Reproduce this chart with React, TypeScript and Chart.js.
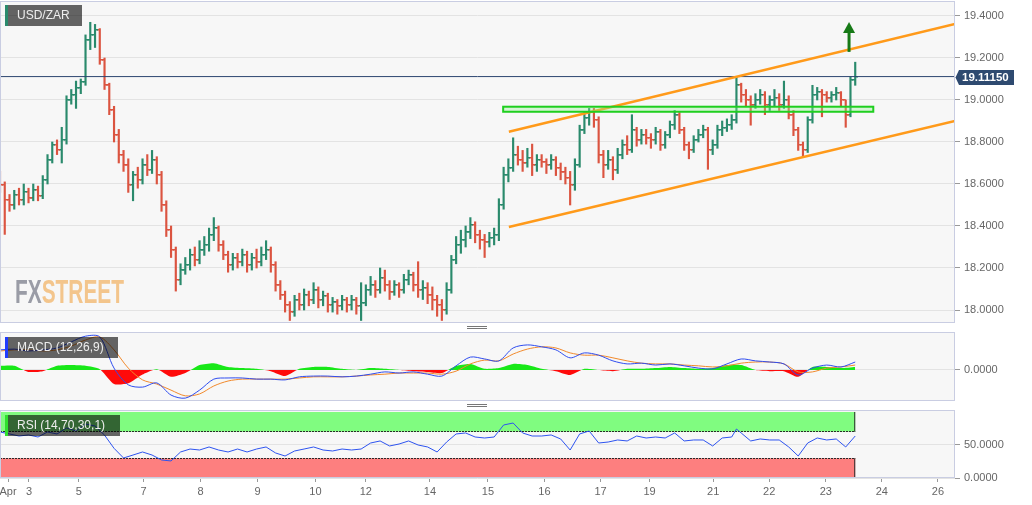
import React, { useEffect, useRef } from 'react';
import { Chart, registerables } from 'chart.js';
Chart.register(...registerables);

const FONT = '"Liberation Sans", Arial, Helvetica, sans-serif';

// ---------- price data (2-hour OHLC bars, open = previous close) ----------
const firstOpen = 18.62;
const closes = [
  18.595, 18.524, 18.5, 18.548, 18.524, 18.562, 18.533, 18.571, 18.543, 18.619,
  18.714, 18.786, 18.762, 18.81, 19.0, 19.024, 19.057, 19.086, 19.286, 19.31,
  19.333, 19.19, 19.071, 18.952, 18.833, 18.738, 18.69, 18.595, 18.643, 18.619,
  18.69, 18.667, 18.714, 18.643, 18.5, 18.381, 18.286, 18.143, 18.19, 18.214,
  18.262, 18.238, 18.286, 18.31, 18.357, 18.39, 18.31, 18.262, 18.214, 18.248,
  18.229, 18.262, 18.214, 18.248, 18.229, 18.262, 18.286, 18.214, 18.119, 18.071,
  18.024, 17.99, 18.048, 18.024, 18.071, 18.048, 18.095, 18.048, 18.067, 18.024,
  18.038, 18.019, 18.048, 18.024, 18.048, 18.019, 18.033, 18.095, 18.119, 18.095,
  18.152, 18.119, 18.086, 18.119, 18.095, 18.143, 18.167, 18.119, 18.095, 18.105,
  18.071, 18.048, 18.024, 18.0, 18.095, 18.238, 18.31, 18.333, 18.371, 18.405,
  18.357, 18.333, 18.324, 18.343, 18.357, 18.5, 18.643, 18.676, 18.738, 18.714,
  18.7, 18.724, 18.69, 18.714, 18.705, 18.69, 18.714, 18.676, 18.657, 18.629,
  18.595, 18.69, 18.857, 18.914, 18.943, 18.905, 18.738, 18.69, 18.714, 18.667,
  18.738, 18.786, 18.762, 18.857, 18.81, 18.833, 18.819, 18.81, 18.848, 18.786,
  18.833, 18.881, 18.929, 18.857, 18.786, 18.762, 18.81, 18.833, 18.857, 18.762,
  18.786, 18.857, 18.867, 18.881, 18.905, 19.071, 19.024, 19.0, 18.976, 19.0,
  19.024, 18.976, 19.0, 19.01, 18.976, 19.0, 18.929, 18.857, 18.786, 18.762,
  18.905, 19.024, 19.038, 19.024, 19.01, 19.024, 19.033, 19.0, 18.929, 19.095,
  19.1115,
];
const highs = [
  18.66, 18.61, 18.55, 18.57, 18.58, 18.6, 18.58, 18.6, 18.59, 18.64,
  18.74, 18.8, 18.81, 18.87, 19.02, 19.05, 19.09, 19.1, 19.31, 19.37,
  19.36, 19.34, 19.2, 19.08, 18.97, 18.86, 18.76, 18.72, 18.66, 18.68,
  18.72, 18.74, 18.76, 18.73, 18.66, 18.52, 18.4, 18.3, 18.22, 18.25,
  18.29, 18.3, 18.33, 18.35, 18.39, 18.44, 18.4, 18.33, 18.28, 18.27,
  18.27, 18.29, 18.28, 18.27, 18.29, 18.3, 18.33, 18.3, 18.23, 18.14,
  18.09, 18.04, 18.07, 18.08, 18.1, 18.09, 18.13, 18.11, 18.09, 18.08,
  18.06, 18.05, 18.07, 18.06, 18.07, 18.06, 18.13, 18.12, 18.16, 18.14,
  18.2, 18.19, 18.14, 18.14, 18.13, 18.17, 18.19, 18.18, 18.23, 18.14,
  18.13, 18.11, 18.07, 18.05, 18.13, 18.26, 18.35, 18.38, 18.4, 18.44,
  18.42, 18.38, 18.36, 18.37, 18.39, 18.53, 18.68, 18.72, 18.82, 18.78,
  18.76, 18.77, 18.79, 18.74, 18.74, 18.72, 18.74, 18.73, 18.7, 18.68,
  18.66, 18.72, 18.88, 18.94, 18.96, 18.96, 18.92, 18.76, 18.76, 18.73,
  18.77, 18.81, 18.83, 18.93, 18.87, 18.86, 18.86, 18.84, 18.87, 18.86,
  18.85, 18.9, 18.95, 18.94, 18.87, 18.8, 18.83, 18.86, 18.88, 18.87,
  18.81, 18.88, 18.9, 18.91, 18.93, 19.11, 19.08, 19.05, 19.02, 19.03,
  19.05, 19.04, 19.02, 19.05, 19.03, 19.09, 19.02, 18.95, 18.87, 18.8,
  18.92, 19.07, 19.06, 19.05, 19.04, 19.04, 19.06, 19.04, 19.0, 19.11,
  19.18,
];
const lows = [
  18.56, 18.36, 18.47, 18.48, 18.5, 18.5, 18.51, 18.52, 18.52, 18.53,
  18.6, 18.7, 18.74, 18.7, 18.79, 18.98, 18.96, 19.03, 19.07, 19.24,
  19.25, 19.17, 19.05, 18.93, 18.8, 18.7, 18.66, 18.56, 18.52, 18.58,
  18.6, 18.64, 18.65, 18.6, 18.47, 18.35, 18.25, 18.09, 18.12, 18.17,
  18.19, 18.21, 18.22, 18.26, 18.28, 18.33, 18.28, 18.24, 18.18, 18.19,
  18.2, 18.21, 18.18, 18.19, 18.2, 18.21, 18.24, 18.18, 18.09, 18.05,
  17.99, 17.95, 17.97, 18.0, 18.0, 18.02, 18.03, 18.01, 18.02, 17.99,
  17.99, 17.98, 18.0, 17.99, 18.0, 17.98, 17.95, 18.02, 18.07, 18.06,
  18.08, 18.09, 18.05, 18.07, 18.06, 18.08, 18.12, 18.09, 18.06, 18.05,
  18.03, 18.0, 17.97, 17.95, 17.98, 18.08, 18.22, 18.27, 18.3, 18.34,
  18.32, 18.29, 18.25, 18.3, 18.31, 18.33, 18.48, 18.61, 18.66, 18.69,
  18.66, 18.68, 18.64, 18.66, 18.68, 18.65, 18.67, 18.64, 18.62, 18.6,
  18.5, 18.57, 18.68, 18.84, 18.88, 18.87, 18.7, 18.63, 18.67, 18.62,
  18.65, 18.72, 18.74, 18.75, 18.78, 18.79, 18.79, 18.77, 18.79, 18.76,
  18.77, 18.82, 18.86, 18.84, 18.76, 18.72, 18.75, 18.8, 18.82, 18.67,
  18.74, 18.77, 18.83, 18.85, 18.86, 18.89, 18.99, 18.97, 18.88, 18.96,
  18.98, 18.93, 18.95, 18.97, 18.95, 18.96, 18.91, 18.83, 18.76, 18.73,
  18.75, 18.89, 19.0, 18.92, 18.99, 18.99, 19.0, 18.97, 18.87, 18.92,
  19.07,
];

// ---------- axis ----------
const X_MAX = 201;
const dayTickPos = [1.7, 6.1, 16.6, 30.2, 42.2, 54.2, 66.4, 77.0, 90.5, 102.7, 114.6, 126.4, 136.7, 150.1, 161.9, 173.8, 185.6, 197.4];
const dayTickText = ['Apr', '3', '5', '7', '8', '9', '10', '12', '14', '15', '16', '17', '19', '21', '22', '23', '24', '26'];
const priceTicks = [18.0, 18.2, 18.4, 18.6, 18.8, 19.0, 19.2, 19.4];
const PRICE_MIN = 17.9381;
const PRICE_MAX = 19.4714;
const lastPrice = 19.1115;

// ---------- drawings ----------
const channelUpper = [{ x: 107.1, y: 18.849 }, { x: 201, y: 19.362 }];
const channelLower = [{ x: 107.1, y: 18.395 }, { x: 201, y: 18.9 }];
const zoneX = [105.9, 183.8];
const zoneY = [18.944, 18.968];
const arrowX = 178.7;
const arrowBase = 19.229;
const arrowTip = 19.371;

// ---------- MACD (12,26,9) ----------
const macdIdx = [0, 3, 6, 9, 12, 15, 18, 21, 24, 27, 30, 33, 36, 39, 42, 45, 48, 51, 54, 57, 60, 63, 66, 69, 72, 75, 78, 81, 84, 87, 90, 93, 96, 99, 102, 105, 108, 111, 114, 117, 120, 123, 126, 129, 132, 135, 138, 141, 144, 147, 150, 153, 156, 159, 162, 165, 168, 171, 174, 177, 180];
const macdLine = [0.053, 0.055, 0.05, 0.053, 0.058, 0.074, 0.089, 0.087, 0.005, -0.039, -0.045, -0.034, -0.066, -0.074, -0.053, -0.024, -0.021, -0.021, -0.024, -0.024, -0.026, -0.018, -0.016, -0.016, -0.018, -0.016, -0.011, -0.005, -0.008, -0.005, -0.011, -0.016, 0.011, 0.034, 0.029, 0.024, 0.058, 0.066, 0.061, 0.053, 0.032, 0.045, 0.039, 0.024, 0.016, 0.018, 0.013, 0.016, 0.011, 0.005, 0.003, 0.016, 0.029, 0.024, 0.021, 0.016, -0.013, 0.005, 0.013, 0.008, 0.021];
const signalLine = [0.05, 0.053, 0.053, 0.05, 0.053, 0.063, 0.079, 0.087, 0.053, 0.005, -0.026, -0.037, -0.053, -0.068, -0.063, -0.042, -0.029, -0.024, -0.024, -0.024, -0.024, -0.021, -0.018, -0.018, -0.018, -0.016, -0.013, -0.011, -0.008, -0.008, -0.008, -0.011, -0.003, 0.016, 0.026, 0.024, 0.042, 0.055, 0.061, 0.058, 0.045, 0.039, 0.039, 0.032, 0.024, 0.018, 0.016, 0.016, 0.013, 0.011, 0.008, 0.011, 0.018, 0.021, 0.021, 0.016, -0.005, -0.005, 0.005, 0.008, 0.013];
const histogram = [0.011, 0.011, -0.005, -0.003, 0.011, 0.013, 0.011, 0.002, -0.037, -0.035, -0.012, 0.002, -0.018, -0.008, 0.013, 0.018, 0.008, 0.005, 0.003, -0.003, -0.016, 0.003, 0.008, 0.008, 0.003, 0.0, 0.005, 0.003, 0.0, -0.003, -0.005, -0.008, 0.011, 0.016, 0.003, 0.005, 0.016, 0.013, 0.003, -0.003, -0.013, 0.003, 0.0, -0.003, 0.003, 0.003, 0.005, 0.008, 0.005, 0.003, 0.005, 0.013, 0.013, 0.0, -0.003, -0.003, -0.018, 0.008, 0.008, 0.005, 0.008];
const macdTicks = [0];
const MACD_MIN = -0.08158;
const MACD_MAX = 0.1;

// ---------- RSI (14,70,30,1) ----------
const rsiIdx = [0, 2, 4, 6, 8, 10, 12, 14, 16, 18, 20, 22, 24, 26, 28, 30, 32, 34, 36, 38, 40, 42, 44, 46, 48, 50, 52, 54, 56, 58, 60, 62, 64, 66, 68, 70, 72, 74, 76, 78, 80, 82, 84, 86, 88, 90, 92, 94, 96, 98, 100, 102, 104, 106, 108, 110, 112, 114, 116, 118, 120, 122, 124, 126, 128, 130, 132, 134, 136, 138, 140, 142, 144, 146, 148, 150, 152, 154, 155, 156, 158, 160, 162, 164, 166, 168, 170, 172, 174, 176, 178, 180];
const rsiValues = [
  69.7, 66.7, 63.6, 65.2, 62.1, 69.7, 66.7, 75.8, 71.2, 81.8,
  78.8, 65.0, 45.0, 30.3, 34.8, 39.4, 34.8, 27.3, 25.8, 39.4,
  43.9, 42.4, 47.0, 42.4, 39.4, 43.9, 39.4, 43.9, 47.0, 37.9,
  33.3, 40.9, 43.9, 47.0, 42.4, 40.9, 43.9, 42.4, 43.9, 53.0,
  56.1, 48.5, 51.5, 56.1, 50.0, 47.0, 39.4, 54.5, 66.7, 68.2,
  62.1, 60.6, 62.1, 80.3, 83.3, 68.2, 63.6, 63.6, 65.2, 59.1,
  42.4, 66.7, 71.2, 53.0, 54.5, 57.6, 56.1, 63.6, 60.6, 62.1,
  60.6, 68.2, 56.1, 57.6, 57.6, 48.5, 60.6, 62.1,
  74.2,
  68.2, 56.1, 59.1, 57.6, 57.6, 47.0, 33.3, 53.0, 60.6, 57.6, 59.1, 47.0, 63.6,
];
const rsiTicks = [0, 50];
const rsiOverbought = 70;
const rsiOversold = 30;
const rsiZoneEnd = 180;
const RSI_MAX = 103;

const GREEN = '#2a8a6c';
const RED = '#db5440';
const AXIS_W = 77;

function tickImage(color: string, side: 'left' | 'right') {
  const c = document.createElement('canvas');
  c.width = 6;
  c.height = 2;
  const g = c.getContext('2d')!;
  g.fillStyle = color;
  g.fillRect(side === 'left' ? 0 : 3, 0, 3, 1.5);
  return c;
}

const panelPlugin = {
  id: 'panelBg',
  beforeDraw(chart: any) {
    const { ctx, chartArea: a } = chart;
    ctx.save();
    ctx.fillStyle = '#f7f7f7';
    ctx.fillRect(a.left, a.top, a.right - a.left, a.bottom - a.top);
    ctx.restore();
  },
  afterDraw(chart: any) {
    const { ctx, chartArea: a } = chart;
    ctx.save();
    ctx.strokeStyle = '#c9cde2';
    ctx.lineWidth = 1;
    ctx.strokeRect(a.left + 0.5, a.top + 0.5, a.right - a.left - 1, a.bottom - a.top - 1);
    ctx.restore();
  },
};

const mainDecor = {
  id: 'mainDecor',
  afterDatasetsDraw(chart: any) {
    const { ctx, scales } = chart;
    const x = scales.x, y = scales.y;
    const x0 = x.getPixelForValue(zoneX[0]);
    const x1 = x.getPixelForValue(zoneX[1]);
    const y0 = y.getPixelForValue(zoneY[1]);
    const y1 = y.getPixelForValue(zoneY[0]);
    ctx.save();
    ctx.fillStyle = 'rgba(150,240,150,0.35)';
    ctx.fillRect(x0, y0, x1 - x0, y1 - y0);
    ctx.strokeStyle = '#1fcf1f';
    ctx.lineWidth = 2;
    ctx.strokeRect(x0, y0, x1 - x0, y1 - y0);
    // arrow
    const ax = x.getPixelForValue(arrowX);
    const yb = y.getPixelForValue(arrowBase);
    const yt = y.getPixelForValue(arrowTip);
    ctx.fillStyle = '#177a17';
    ctx.fillRect(ax - 1.5, yt + 10, 3, yb - yt - 10);
    ctx.beginPath();
    ctx.moveTo(ax, yt);
    ctx.lineTo(ax + 6, yt + 11);
    ctx.lineTo(ax - 6, yt + 11);
    ctx.closePath();
    ctx.fill();
    ctx.restore();
  },
  afterDraw(chart: any) {
    const { ctx, scales, chartArea } = chart;
    const py = Math.round(scales.y.getPixelForValue(lastPrice)) + 0.5;
    const r = chartArea.right;
    ctx.save();
    ctx.fillStyle = '#2e4a70';
    ctx.beginPath();
    ctx.moveTo(r + 0.5, py);
    ctx.lineTo(r + 4, py - 7.5);
    ctx.lineTo(r + 59, py - 7.5);
    ctx.lineTo(r + 59, py + 7.5);
    ctx.lineTo(r + 4, py + 7.5);
    ctx.closePath();
    ctx.fill();
    ctx.fillStyle = '#ffffff';
    ctx.font = `bold 11.5px ${FONT}`;
    ctx.textBaseline = 'middle';
    ctx.textAlign = 'left';
    ctx.fillText(lastPrice.toFixed(5), r + 7, py + 0.5);
    ctx.restore();
  },
};

const rsiDecor = {
  id: 'rsiDecor',
  beforeDatasetsDraw(chart: any) {
    const { ctx, scales, chartArea } = chart;
    const x = scales.x, y = scales.y;
    const xl = chartArea.left;
    const xr = x.getPixelForValue(rsiZoneEnd);
    const yTop = y.getPixelForValue(100);
    const yOb = y.getPixelForValue(rsiOverbought);
    const yOs = y.getPixelForValue(rsiOversold);
    const yBot = y.getPixelForValue(0);
    ctx.save();
    ctx.fillStyle = '#80fc80';
    ctx.fillRect(xl, yTop, xr - xl, yOb - yTop);
    ctx.fillStyle = '#fd7f7f';
    ctx.fillRect(xl, yOs, xr - xl, yBot - yOs);
    ctx.strokeStyle = '#2a2a2a';
    ctx.lineWidth = 1;
    ctx.beginPath();
    ctx.moveTo(xr - 0.5, yTop); ctx.lineTo(xr - 0.5, yOb);
    ctx.moveTo(xr - 0.5, yOs); ctx.lineTo(xr - 0.5, yBot);
    ctx.moveTo(xl + 0.5, yTop); ctx.lineTo(xl + 0.5, yOb);
    ctx.moveTo(xl + 0.5, yOs); ctx.lineTo(xl + 0.5, yBot);
    ctx.stroke();
    ctx.setLineDash([2, 1]);
    ctx.beginPath();
    ctx.moveTo(xl, Math.round(yOb) - 0.5); ctx.lineTo(xr, Math.round(yOb) - 0.5);
    ctx.moveTo(xl, Math.round(yOs) + 0.5); ctx.lineTo(xr, Math.round(yOs) + 0.5);
    ctx.stroke();
    ctx.restore();
  },
};

function xAxis(display: boolean): any {
  return {
    type: 'linear',
    min: 0,
    max: X_MAX,
    offset: false,
    display,
    grid: { display: false, offset: false },
    border: { display: false },
  };
}

function yAxis(min: number, max: number, ticks: number[]): any {
  return {
    type: 'linear',
    position: 'right',
    min,
    max,
    afterBuildTicks: (s: any) => {
      s.ticks = ticks.map((v) => ({ value: v }));
    },
    afterFit: (s: any) => {
      s.width = AXIS_W;
      s.paddingTop = 0;
      s.paddingBottom = 0;
    },
    ticks: {
      callback: (v: any) => Number(v).toFixed(4),
      padding: 4,
      color: '#666',
      font: { size: 11, family: FONT },
    },
    grid: { color: '#e3e3e3', tickLength: 5, tickColor: '#999', drawOnChartArea: true },
    border: { display: false },
  };
}

const baseOptions: any = {
  responsive: false,
  animation: false,
  events: [],
  layout: { padding: 0, autoPadding: false },
  plugins: { legend: { display: false }, tooltip: { enabled: false } },
};

export default function App() {
  const mainRef = useRef<HTMLCanvasElement>(null);
  const macdRef = useRef<HTMLCanvasElement>(null);
  const rsiRef = useRef<HTMLCanvasElement>(null);

  useEffect(() => {
    document.body.style.margin = '0';
    Chart.defaults.font.family = FONT;

    const opens = closes.map((c, i) => (i === 0 ? firstOpen : closes[i - 1]));
    const up = closes.map((c, i) => c >= opens[i]);
    const openG = tickImage(GREEN, 'left');
    const openR = tickImage(RED, 'left');
    const closeG = tickImage(GREEN, 'right');
    const closeR = tickImage(RED, 'right');

    const main = new Chart(mainRef.current!, {
      type: 'line',
      data: {
        datasets: [
          { type: 'line', data: channelUpper, borderColor: '#ff9a1a', borderWidth: 2.5, pointRadius: 0, tension: 0 },
          { type: 'line', data: channelLower, borderColor: '#ff9a1a', borderWidth: 2.5, pointRadius: 0, tension: 0 },
          {
            type: 'line',
            data: [{ x: 0, y: lastPrice }, { x: X_MAX, y: lastPrice }],
            borderColor: '#2d4670', borderWidth: 1, pointRadius: 0,
          },
          {
            type: 'line', showLine: false,
            data: closes.map((c, i) => ({ x: i, y: c })),
            pointStyle: up.map((u) => (u ? closeG : closeR)) as any,
            pointRadius: 3, pointBorderWidth: 0,
          },
          {
            type: 'line', showLine: false,
            data: opens.map((o, i) => ({ x: i, y: o })),
            pointStyle: up.map((u) => (u ? openG : openR)) as any,
            pointRadius: 3, pointBorderWidth: 0,
          },
          {
            type: 'bar',
            data: closes.map((c, i) => ({ x: i, y: [lows[i], highs[i]] })) as any,
            backgroundColor: up.map((u) => (u ? GREEN : RED)),
            borderWidth: 0,
            barThickness: 1.5,
            grouped: false,
          } as any,
        ],
      },
      options: {
        ...baseOptions,
        scales: { x: xAxis(false), y: yAxis(PRICE_MIN, PRICE_MAX, priceTicks) },
      },
      plugins: [panelPlugin, mainDecor],
    } as any);

    const macd = new Chart(macdRef.current!, {
      type: 'line',
      data: {
        datasets: [
          { data: macdIdx.map((x, i) => ({ x, y: macdLine[i] })), borderColor: '#2f4df0', borderWidth: 1, pointRadius: 0, tension: 0.3 },
          { data: macdIdx.map((x, i) => ({ x, y: signalLine[i] })), borderColor: '#f28a2c', borderWidth: 1, pointRadius: 0, tension: 0.3 },
          {
            data: macdIdx.map((x, i) => ({ x, y: histogram[i] })),
            borderWidth: 0, pointRadius: 0, tension: 0.2,
            fill: { target: 'origin', above: '#18e818', below: '#ff0a0a' },
          },
        ],
      },
      options: {
        ...baseOptions,
        scales: { x: xAxis(false), y: yAxis(MACD_MIN, MACD_MAX, macdTicks) },
      },
      plugins: [panelPlugin],
    } as any);

    const rsiX = xAxis(true);
    rsiX.afterBuildTicks = (s: any) => {
      s.ticks = dayTickPos.map((v) => ({ value: v }));
    };
    rsiX.afterFit = (s: any) => {
      s.height = 27;
      s.paddingLeft = 0;
      s.paddingRight = 0;
    };
    rsiX.ticks = {
      autoSkip: false, maxRotation: 0, minRotation: 0, padding: 3, color: '#666',
      font: { size: 11, family: FONT },
      callback: (_v: any, i: number) => dayTickText[i],
    };
    rsiX.grid = { display: true, drawOnChartArea: false, drawTicks: true, tickLength: 4, tickColor: '#999', offset: false };

    const rsi = new Chart(rsiRef.current!, {
      type: 'line',
      data: {
        datasets: [
          { data: rsiIdx.map((x, i) => ({ x, y: rsiValues[i] })), borderColor: '#2e54f0', borderWidth: 1, pointRadius: 0, tension: 0 },
        ],
      },
      options: {
        ...baseOptions,
        scales: { x: rsiX, y: yAxis(0, RSI_MAX, rsiTicks) },
      },
      plugins: [panelPlugin, rsiDecor],
    } as any);

    return () => {
      main.destroy();
      macd.destroy();
      rsi.destroy();
    };
  }, []);

  const box = (top: number, width: number, stripe: string): React.CSSProperties => ({
    position: 'absolute', left: 5, top, width, height: 21, boxSizing: 'border-box',
    background: 'rgba(0,0,0,0.6)', borderLeft: `3px solid ${stripe}`, color: '#ededed',
    font: `12px ${FONT}`, lineHeight: '21px', paddingLeft: 9, whiteSpace: 'nowrap',
  });
  const handle = (top: number): React.CSSProperties => ({
    position: 'absolute', left: 467, top, width: 20, height: 1.5,
    borderTop: '1px solid #777', borderBottom: '1px solid #777',
  });

  return (
    <div style={{ position: 'absolute', left: 0, top: 0, width: 1032, height: 505, background: '#fff', overflow: 'hidden' }}>
      <canvas ref={mainRef} width={1032} height={322} style={{ position: 'absolute', left: 0, top: 1, width: 1032, height: 322 }} />
      <canvas ref={macdRef} width={1032} height={69} style={{ position: 'absolute', left: 0, top: 332, width: 1032, height: 69 }} />
      <canvas ref={rsiRef} width={1032} height={95} style={{ position: 'absolute', left: 0, top: 410, width: 1032, height: 95 }} />
      <div style={box(5, 77, '#2a8a6c')}>USD/ZAR</div>
      <div style={box(337, 113, '#1f3cff')}>MACD (12,26,9)</div>
      <div style={box(415, 115, '#2fe02f')}>RSI (14,70,30,1)</div>
      <div
        style={{
          position: 'absolute', left: 15, top: 274, font: `bold 34px ${FONT}`, lineHeight: '34px',
          transform: 'scaleX(0.614)', transformOrigin: '0 0', whiteSpace: 'nowrap',
        }}
      >
        <span style={{ color: '#9a9ca6' }}>FX</span>
        <span style={{ color: '#f3c58c' }}>STREET</span>
      </div>
      <div style={handle(325.5)} />
      <div style={handle(403.5)} />
    </div>
  );
}
